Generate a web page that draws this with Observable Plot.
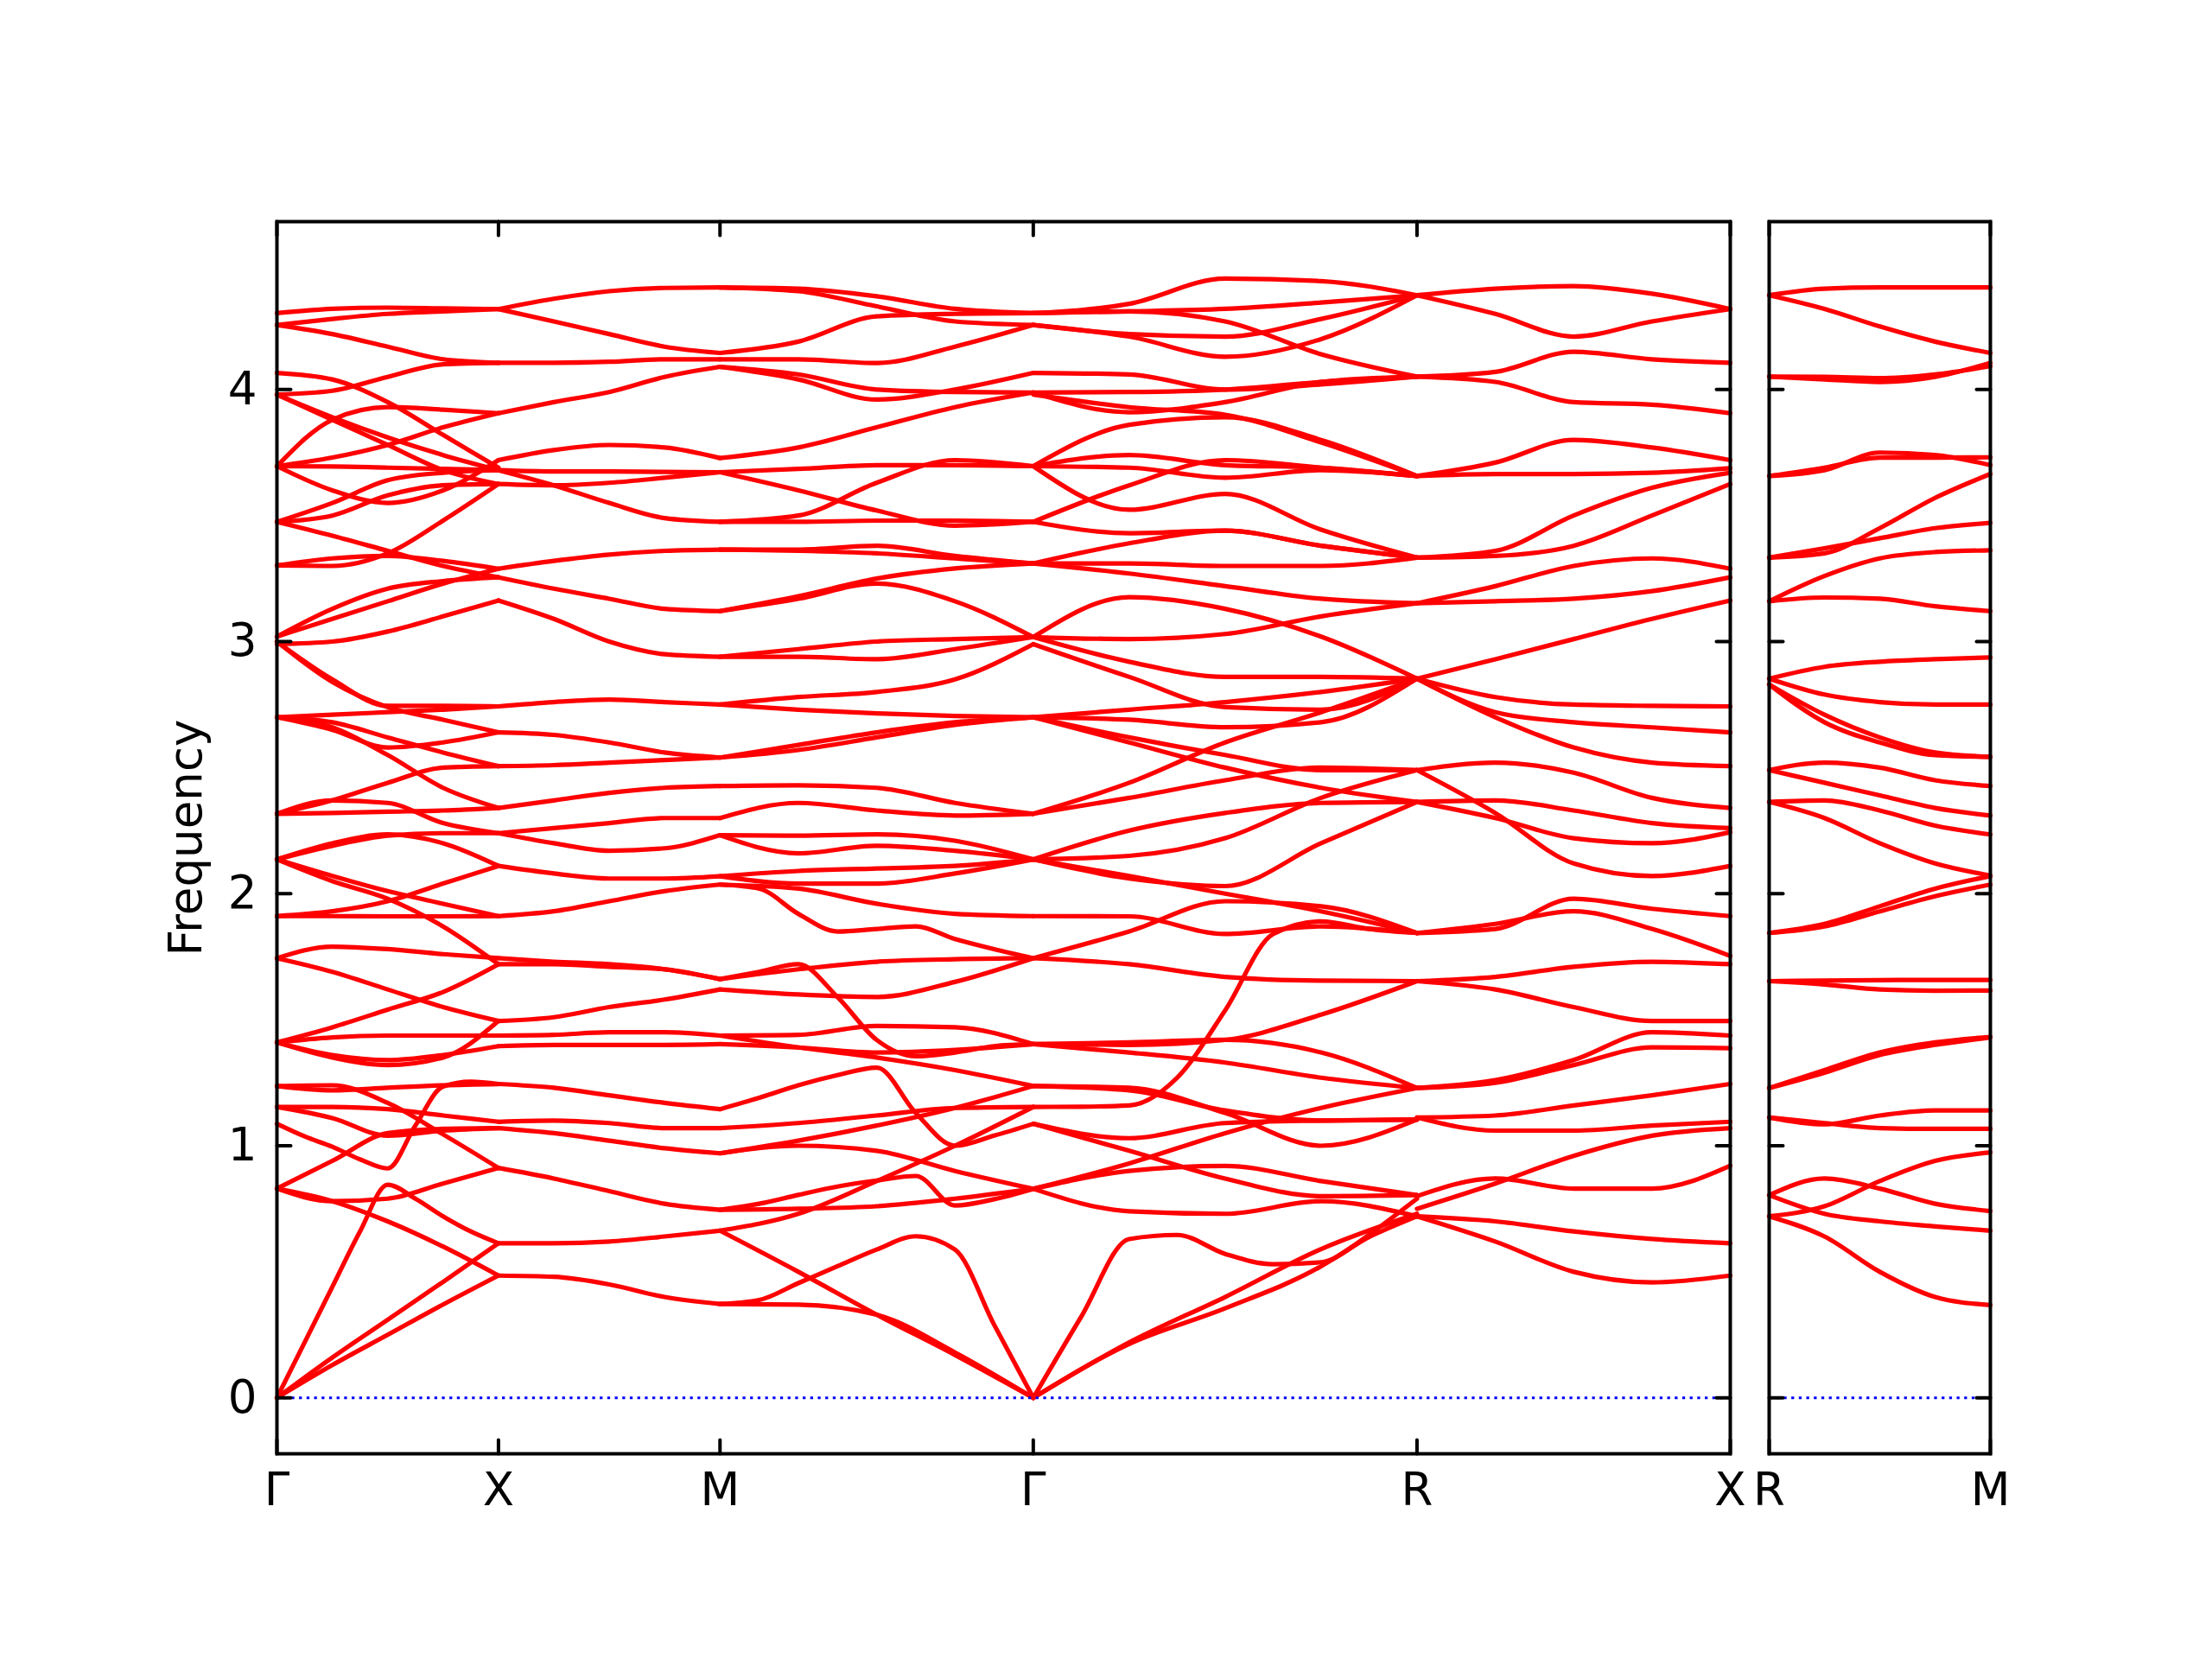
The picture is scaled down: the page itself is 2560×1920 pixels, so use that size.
<!DOCTYPE html>
<html><head><meta charset="utf-8">
<script src="https://cdn.jsdelivr.net/npm/d3@7"></script>
<script src="https://cdn.jsdelivr.net/npm/@observablehq/plot@0.6"></script>
<style>
html,body{margin:0;padding:0;background:#fff;overflow:hidden;}
#chart{position:relative;width:2560px;height:1920px;background:#fff;font-family:"DejaVu Sans",sans-serif;}
#chart svg{position:absolute;left:0;top:0;}
</style></head><body><div id="chart"></div>
<script>
// high-symmetry points (path length) and labels
const mainPoints = [0, 1, 2, 3.4142, 5.1463, 6.5605];
const mainLabels = ["Γ", "X", "M", "Γ", "R", "X"];
const sidePoints = [0, 1];
const sideLabels = ["R", "M"];
const yTicks = [0, 1, 2, 3, 4];
const yDomain = [-0.222, 4.666];

// band values along each segment (equally spaced samples from start to end)
const segGX = [
  [0, 0.13, 0.25, 0.37, 0.485],
  [0, 0.16, 0.31, 0.46, 0.613],
  [0, 0.22, 0.44, 0.66, 0.845, 0.79, 0.72, 0.66, 0.613],
  [0.83, 0.78, 0.70, 0.60, 0.485],
  [0.83, 0.78, 0.79, 0.85, 0.912],
  [0.83, 0.94, 1.05, 1.067, 1.07],
  [1.087, 1.037, 0.996, 0.946, 0.91, 1.08, 1.235, 1.254, 1.245],
  [1.237, 1.24, 1.17, 1.045, 0.912],
  [1.237, 1.22, 1.23, 1.24, 1.245],
  [1.154, 1.154, 1.145, 1.12, 1.095],
  [1.154, 1.11, 1.04, 1.06, 1.07],
  [1.41, 1.43, 1.437, 1.437, 1.437],
  [1.41, 1.35, 1.32, 1.35, 1.495],
  [1.41, 1.36, 1.34, 1.36, 1.395],
  [1.41, 1.47, 1.54, 1.61, 1.72],
  [1.744, 1.79, 1.78, 1.76, 1.744],
  [1.744, 1.69, 1.62, 1.55, 1.495],
  [1.911, 1.911, 1.91, 1.91, 1.911],
  [1.911, 1.93, 1.97, 2.04, 2.11],
  [2.136, 2.05, 1.98, 1.87, 1.72],
  [2.136, 2.07, 2.01, 1.96, 1.911],
  [2.136, 2.19, 2.23, 2.24, 2.24],
  [2.136, 2.2, 2.235, 2.2, 2.11],
  [2.317, 2.32, 2.325, 2.33, 2.34],
  [2.317, 2.37, 2.44, 2.50, 2.506],
  [2.317, 2.37, 2.36, 2.28, 2.24],
  [2.70, 2.71, 2.72, 2.73, 2.743],
  [2.70, 2.68, 2.62, 2.56, 2.506],
  [2.70, 2.65, 2.58, 2.60, 2.64],
  [2.70, 2.66, 2.55, 2.42, 2.34],
  [3.0, 2.85, 2.745, 2.745, 2.743],
  [3.0, 2.84, 2.74, 2.69, 2.64],
  [3.02, 3.13, 3.21, 3.24, 3.255],
  [3.02, 3.09, 3.16, 3.23, 3.289],
  [2.99, 3.0, 3.04, 3.1, 3.163],
  [3.302, 3.30, 3.35, 3.48, 3.625],
  [3.302, 3.33, 3.34, 3.32, 3.289],
  [3.475, 3.42, 3.36, 3.3, 3.255],
  [3.475, 3.55, 3.64, 3.67, 3.68],
  [3.475, 3.5, 3.58, 3.62, 3.625],
  [3.696, 3.88, 3.93, 3.92, 3.906],
  [3.696, 3.73, 3.78, 3.85, 3.906],
  [3.696, 3.695, 3.69, 3.685, 3.68],
  [3.696, 3.6, 3.55, 3.6, 3.72],
  [3.98, 3.995, 4.05, 4.10, 4.106],
  [3.98, 3.89, 3.81, 3.74, 3.68],
  [3.98, 3.88, 3.78, 3.68, 3.625],
  [4.066, 4.04, 3.95, 3.82, 3.69],
  [4.256, 4.28, 4.30, 4.31, 4.319],
  [4.256, 4.22, 4.17, 4.12, 4.106],
  [4.303, 4.32, 4.325, 4.322, 4.319]
];
const segXM = [
  [4.319, 4.36, 4.39, 4.403, 4.405],
  [4.319, 4.27, 4.22, 4.17, 4.145],
  [4.106, 4.106, 4.11, 4.12, 4.12],
  [3.906, 3.95, 3.99, 4.05, 4.09],
  [3.72, 3.76, 3.78, 3.77, 3.728],
  [3.68, 3.675, 3.675, 3.673, 3.672],
  [3.625, 3.62, 3.63, 3.65, 3.672],
  [3.68, 3.62, 3.55, 3.49, 3.475],
  [3.289, 3.32, 3.345, 3.36, 3.365],
  [3.255, 3.21, 3.17, 3.13, 3.121],
  [3.163, 3.09, 3.0, 2.95, 2.94],
  [2.743, 2.76, 2.77, 2.76, 2.75],
  [2.64, 2.63, 2.6, 2.56, 2.54],
  [2.506, 2.51, 2.52, 2.53, 2.54],
  [2.34, 2.37, 2.40, 2.42, 2.427],
  [2.24, 2.26, 2.28, 2.30, 2.30],
  [2.24, 2.2, 2.17, 2.18, 2.232],
  [2.11, 2.08, 2.06, 2.06, 2.069],
  [1.911, 1.93, 1.97, 2.01, 2.036],
  [1.744, 1.73, 1.72, 1.70, 1.661],
  [1.72, 1.72, 1.71, 1.70, 1.661],
  [1.495, 1.51, 1.55, 1.58, 1.62],
  [1.437, 1.44, 1.45, 1.45, 1.437],
  [1.395, 1.40, 1.40, 1.40, 1.403],
  [1.245, 1.23, 1.2, 1.17, 1.145],
  [1.095, 1.10, 1.09, 1.07, 1.07],
  [1.07, 1.05, 1.02, 0.99, 0.97],
  [0.912, 0.87, 0.82, 0.77, 0.746],
  [0.613, 0.613, 0.62, 0.64, 0.663],
  [0.485, 0.48, 0.45, 0.40, 0.372]
];
const segMG = [
  [4.405, 4.40, 4.37, 4.32, 4.303],
  [4.405, 4.39, 4.33, 4.27, 4.256],
  [4.145, 4.19, 4.29, 4.30, 4.303],
  [4.12, 4.12, 4.105, 4.17, 4.256],
  [4.09, 4.06, 4.0, 3.99, 3.988],
  [4.09, 4.04, 3.96, 4.0, 4.066],
  [3.728, 3.77, 3.85, 3.93, 3.988],
  [3.672, 3.685, 3.70, 3.70, 3.696],
  [3.672, 3.6, 3.52, 3.46, 3.475],
  [3.475, 3.5, 3.63, 3.72, 3.696],
  [3.475, 3.475, 3.48, 3.48, 3.475],
  [3.365, 3.365, 3.38, 3.34, 3.31],
  [3.365, 3.36, 3.35, 3.33, 3.31],
  [3.121, 3.17, 3.23, 3.16, 3.018],
  [3.121, 3.18, 3.25, 3.29, 3.31],
  [2.94, 2.94, 2.93, 2.97, 3.018],
  [2.94, 2.97, 3.0, 3.01, 3.018],
  [2.75, 2.78, 2.80, 2.85, 2.99],
  [2.75, 2.73, 2.715, 2.705, 2.70],
  [2.54, 2.59, 2.64, 2.68, 2.70],
  [2.54, 2.57, 2.62, 2.67, 2.70],
  [2.427, 2.43, 2.42, 2.36, 2.317],
  [2.30, 2.36, 2.33, 2.31, 2.317],
  [2.232, 2.23, 2.235, 2.21, 2.136],
  [2.232, 2.16, 2.19, 2.17, 2.136],
  [2.069, 2.09, 2.1, 2.11, 2.136],
  [2.069, 2.04, 2.04, 2.08, 2.136],
  [2.036, 2.02, 1.92, 1.85, 1.86, 1.87, 1.82, 1.78, 1.744],
  [2.036, 2.02, 1.96, 1.92, 1.911],
  [1.661, 1.70, 1.73, 1.74, 1.744],
  [1.62, 1.6, 1.59, 1.65, 1.744],
  [1.661, 1.69, 1.72, 1.59, 1.42, 1.355, 1.37, 1.395, 1.403],
  [1.437, 1.44, 1.475, 1.47, 1.403],
  [1.403, 1.39, 1.37, 1.38, 1.403],
  [1.437, 1.39, 1.35, 1.30, 1.237],
  [1.145, 1.19, 1.24, 1.28, 1.31, 1.13, 1.0, 1.04, 1.087],
  [1.07, 1.09, 1.12, 1.15, 1.154],
  [0.97, 1.0, 0.98, 0.9, 0.829],
  [0.97, 1.02, 1.08, 1.15, 1.237],
  [0.746, 0.77, 0.805, 0.838, 0.862, 0.88, 0.763, 0.788, 0.829],
  [0.746, 0.75, 0.76, 0.79, 0.829],
  [0.663, 0.73, 0.86, 1.0, 1.154],
  [0.663, 0.50, 0.33, 0.17, 0],
  [0.372, 0.388, 0.455, 0.522, 0.588, 0.641, 0.588, 0.29, 0],
  [0.372, 0.37, 0.33, 0.18, 0]
];
const segGR = [
  [4.303, 4.34, 4.44, 4.43, 4.374],
  [4.303, 4.31, 4.32, 4.345, 4.374],
  [4.303, 4.31, 4.27, 4.14, 4.051],
  [4.256, 4.22, 4.21, 4.28, 4.374],
  [4.256, 4.21, 4.13, 4.2, 4.374],
  [4.066, 4.06, 4.0, 4.02, 4.051],
  [3.988, 3.99, 4.0, 4.03, 4.051],
  [3.988, 3.91, 3.95, 4.03, 4.051],
  [3.98, 3.93, 3.9, 3.79, 3.657],
  [3.696, 3.86, 3.89, 3.8, 3.657],
  [3.696, 3.74, 3.70, 3.69, 3.657],
  [3.696, 3.69, 3.65, 3.68, 3.657],
  [3.696, 3.523, 3.586, 3.444, 3.333],
  [3.475, 3.62, 3.72, 3.69, 3.657],
  [3.475, 3.43, 3.44, 3.38, 3.333],
  [3.31, 3.39, 3.44, 3.38, 3.333],
  [3.31, 3.31, 3.30, 3.3, 3.333],
  [3.31, 3.27, 3.22, 3.17, 3.152],
  [3.018, 3.176, 3.13, 3.02, 2.853],
  [3.018, 3.01, 3.03, 3.1, 3.152],
  [3.018, 2.92, 2.86, 2.86, 2.853],
  [2.99, 2.86, 2.74, 2.73, 2.853],
  [2.70, 2.73, 2.76, 2.8, 2.853],
  [2.70, 2.69, 2.66, 2.68, 2.853],
  [2.70, 2.62, 2.55, 2.49, 2.49],
  [2.70, 2.6, 2.5, 2.42, 2.364],
  [2.317, 2.44, 2.6, 2.72, 2.853],
  [2.317, 2.38, 2.45, 2.5, 2.49],
  [2.136, 2.25, 2.32, 2.36, 2.364],
  [2.136, 2.06, 2.03, 2.2, 2.364],
  [2.136, 2.15, 2.22, 2.38, 2.49],
  [2.136, 2.07, 2.0, 1.93, 1.844],
  [1.911, 1.91, 1.84, 1.87, 1.844],
  [1.744, 1.85, 1.97, 1.95, 1.844],
  [1.744, 1.72, 1.67, 1.655, 1.653],
  [1.154, 1.155, 1.16, 1.27, 1.537, 1.84, 1.89, 1.86, 1.844],
  [1.403, 1.41, 1.42, 1.37, 1.229],
  [1.403, 1.37, 1.33, 1.27, 1.229],
  [1.403, 1.40, 1.42, 1.52, 1.653],
  [1.237, 1.23, 1.13, 1.0, 1.104],
  [1.237, 1.22, 1.14, 1.1, 1.104],
  [1.087, 0.98, 0.87, 0.80, 0.804],
  [1.087, 1.03, 1.09, 1.1, 1.104],
  [0.829, 0.93, 1.05, 1.15, 1.229],
  [0.829, 0.74, 0.73, 0.78, 0.72],
  [0.829, 0.9, 0.92, 0.86, 0.804],
  [0, 0.322, 0.63, 0.646, 0.571, 0.53, 0.538, 0.638, 0.72],
  [0, 0.214, 0.355, 0.522, 0.79],
  [0, 0.22, 0.40, 0.59, 0.73]
];
const segRX = [
  [4.374, 4.4, 4.41, 4.38, 4.319],
  [4.374, 4.3, 4.21, 4.27, 4.319],
  [4.051, 4.07, 4.15, 4.12, 4.106],
  [4.051, 4.03, 3.95, 3.94, 3.906],
  [3.657, 3.71, 3.8, 3.77, 3.72],
  [3.657, 3.665, 3.665, 3.67, 3.688],
  [3.333, 3.36, 3.5, 3.61, 3.67],
  [3.333, 3.34, 3.38, 3.5, 3.625],
  [3.152, 3.22, 3.3, 3.33, 3.289],
  [3.152, 3.16, 3.17, 3.2, 3.255],
  [2.853, 2.93, 3.01, 3.09, 3.163],
  [2.853, 2.78, 2.75, 2.745, 2.743],
  [2.853, 2.72, 2.68, 2.66, 2.64],
  [2.853, 2.7, 2.58, 2.52, 2.506],
  [2.49, 2.52, 2.48, 2.38, 2.34],
  [2.364, 2.37, 2.33, 2.28, 2.26],
  [2.364, 2.3, 2.22, 2.2, 2.244],
  [2.49, 2.32, 2.12, 2.07, 2.11],
  [1.844, 1.86, 1.98, 1.94, 1.911],
  [1.844, 1.88, 1.93, 1.86, 1.753],
  [1.653, 1.67, 1.71, 1.73, 1.72],
  [1.653, 1.62, 1.55, 1.495, 1.495],
  [1.229, 1.26, 1.34, 1.45, 1.437],
  [1.229, 1.25, 1.32, 1.39, 1.387],
  [1.112, 1.12, 1.16, 1.2, 1.245],
  [1.112, 1.06, 1.06, 1.08, 1.095],
  [0.80, 0.87, 0.83, 0.83, 0.921],
  [0.75, 0.85, 0.96, 1.04, 1.07],
  [0.72, 0.7, 0.66, 0.63, 0.613],
  [0.72, 0.62, 0.5, 0.458, 0.485]
];
const segRM = [
  [4.374, 4.4, 4.405, 4.405, 4.405],
  [4.374, 4.32, 4.25, 4.19, 4.145],
  [4.051, 4.05, 4.045, 4.06, 4.093],
  [4.051, 4.04, 4.03, 4.05, 4.106],
  [3.657, 3.69, 3.73, 3.73, 3.731],
  [3.657, 3.68, 3.75, 3.74, 3.70],
  [3.333, 3.35, 3.45, 3.57, 3.665],
  [3.333, 3.37, 3.41, 3.45, 3.471],
  [3.16, 3.26, 3.33, 3.355, 3.362],
  [3.16, 3.175, 3.17, 3.14, 3.121],
  [2.853, 2.9, 2.92, 2.93, 2.937],
  [2.853, 2.79, 2.76, 2.75, 2.75],
  [2.83, 2.71, 2.62, 2.56, 2.543],
  [2.83, 2.68, 2.6, 2.55, 2.543],
  [2.49, 2.52, 2.5, 2.45, 2.427],
  [2.49, 2.44, 2.39, 2.34, 2.31],
  [2.364, 2.37, 2.33, 2.27, 2.235],
  [2.364, 2.3, 2.2, 2.12, 2.072],
  [1.844, 1.88, 1.95, 2.02, 2.07],
  [1.844, 1.87, 1.93, 1.99, 2.036],
  [1.653, 1.655, 1.657, 1.658, 1.658],
  [1.653, 1.64, 1.62, 1.615, 1.616],
  [1.229, 1.30, 1.37, 1.41, 1.432],
  [1.229, 1.29, 1.36, 1.40, 1.43],
  [1.112, 1.085, 1.12, 1.14, 1.14],
  [1.112, 1.09, 1.07, 1.067, 1.067],
  [0.804, 0.87, 0.83, 0.77, 0.741],
  [0.804, 0.73, 0.7, 0.68, 0.663],
  [0.72, 0.76, 0.86, 0.94, 0.974],
  [0.72, 0.64, 0.5, 0.4, 0.368]
];

function toRows(segs, points) {
  const rows = [];
  segs.forEach((seg, s) => {
    const k0 = points[s], k1 = points[s + 1];
    seg.forEach((vals, b) => {
      const n = vals.length;
      vals.forEach((v, j) => rows.push({id: s + "-" + b, k: k0 + (k1 - k0) * j / (n - 1), v}));
    });
  });
  return rows;
}

const tickShape = {draw(ctx, l) { ctx.moveTo(0, 0); ctx.lineTo(0, -l); }};
const FONT = 53;

function panel({segs, points, labels, marginLeft, marginRight, showY}) {
  const rows = toRows(segs, points);
  const kMin = points[0], kMax = points[points.length - 1];
  const tk = {length: 16, anchor: "start", shape: tickShape, stroke: "black", strokeWidth: 4};
  const marks = [
    Plot.line(rows, {x: "k", y: "v", z: "id", stroke: "#ff0000", strokeWidth: 5.2, curve: "monotone-x"}),
    Plot.ruleY([0], {stroke: "#0000ff", strokeWidth: 3, strokeDasharray: "3.3,5.4"}),
    Plot.frame({stroke: "black", strokeWidth: 4}),
    Plot.vector(yTicks, {x: () => kMin, y: d => d, rotate: 90, ...tk}),
    Plot.vector(yTicks, {x: () => kMax, y: d => d, rotate: -90, ...tk}),
    Plot.vector(points, {x: d => d, y: () => yDomain[0], rotate: 0, ...tk}),
    Plot.vector(points, {x: d => d, y: () => yDomain[1], rotate: 180, ...tk}),
    Plot.text(points, {x: d => d, y: () => yDomain[0], text: (d, i) => labels[i], dy: 22, lineAnchor: "top", fontSize: FONT, fill: "black"})
  ];
  if (showY) {
    marks.push(Plot.text(yTicks, {x: () => kMin, y: d => d, text: d => String(d), dx: -23, textAnchor: "end", fontSize: FONT, fill: "black"}));
    marks.push(Plot.text(["Frequency"], {frameAnchor: "left", dx: -88, rotate: -90, textAnchor: "middle", lineAnchor: "bottom", fontSize: FONT, fill: "black"}));
  }
  return Plot.plot({
    width: 2560, height: 1920,
    marginLeft, marginRight, marginTop: 256, marginBottom: 238,
    x: {domain: [kMin, kMax], axis: null},
    y: {domain: yDomain, axis: null},
    style: {background: "transparent", overflow: "visible", fontFamily: "DejaVu Sans, sans-serif", color: "black"},
    marks
  });
}

const chart = document.getElementById("chart");
chart.appendChild(panel({segs: [segGX, segXM, segMG, segGR, segRX], points: mainPoints, labels: mainLabels, marginLeft: 320, marginRight: 558, showY: true}));
chart.appendChild(panel({segs: [segRM], points: sidePoints, labels: sideLabels, marginLeft: 2047, marginRight: 257, showY: false}));
</script>
</body></html>
